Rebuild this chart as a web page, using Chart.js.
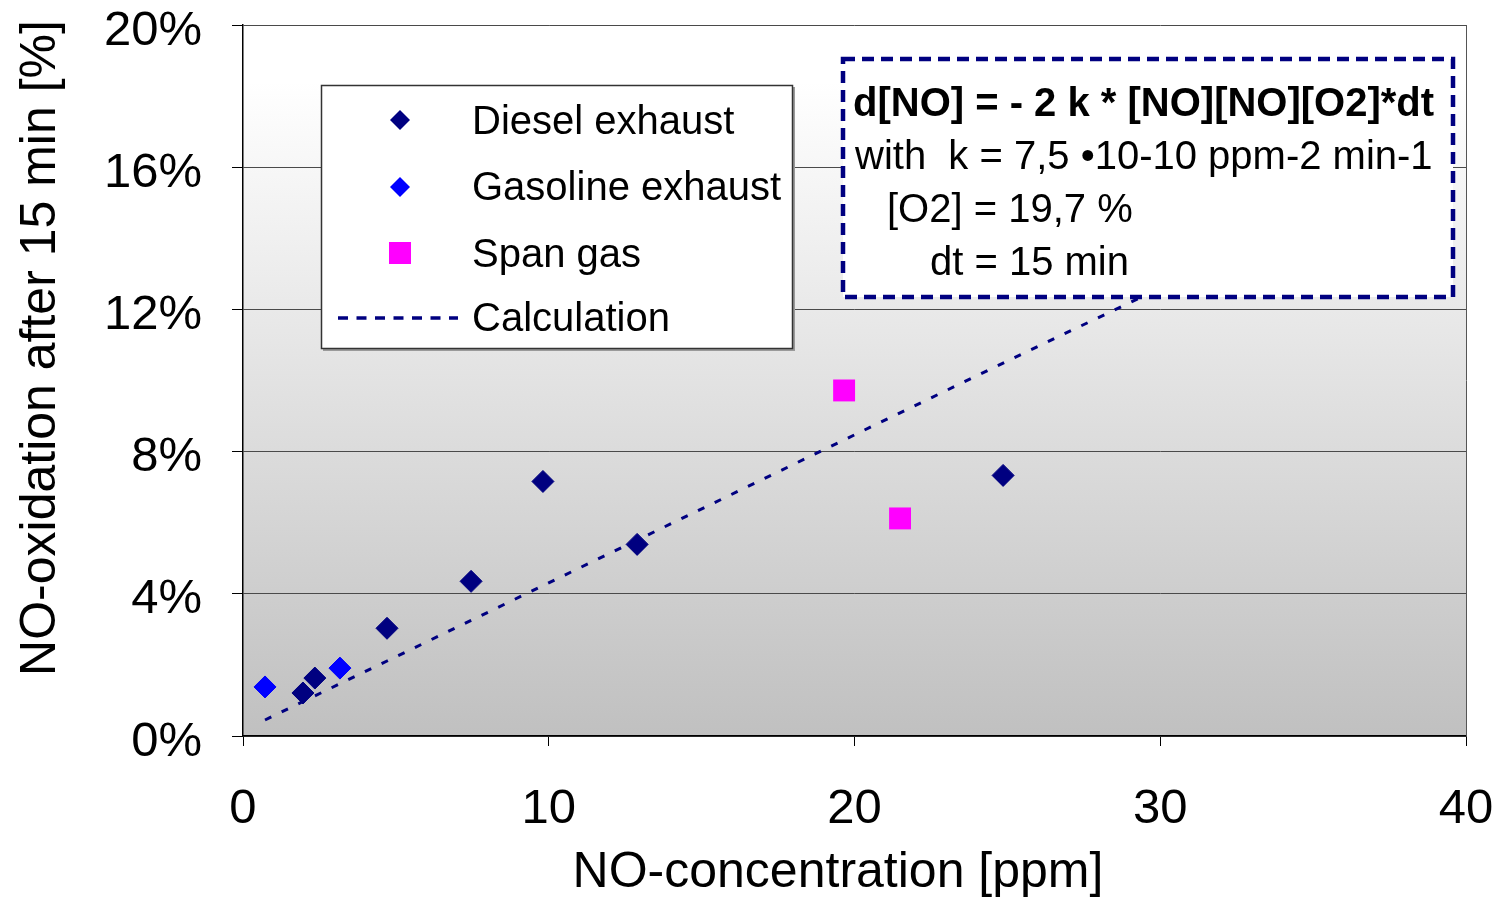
<!DOCTYPE html>
<html>
<head>
<meta charset="utf-8">
<script src="https://cdn.jsdelivr.net/npm/chart.js@4/dist/chart.umd.min.js"></script>
<style>
    html, body { margin: 0; padding: 0; background: #ffffff; }
    #wrap { width: 1499px; height: 898px; }
</style>
</head>
<body>
<div id="wrap"><canvas id="chart" width="1499" height="898"></canvas></div>
<script>
// NO concentration [ppm] and oxidation after 15 min [%]
const dieselX = [1.96, 2.35, 4.71, 7.46, 9.81, 12.89, 24.86];
const dieselY = [1.21, 1.63, 3.03, 4.35, 7.16, 5.39, 7.33];
const gasolineX = [0.72, 3.17];
const gasolineY = [1.38, 1.91];
const spanX = [19.66, 21.49];
const spanY = [9.72, 6.12];
const calcX = [0.72, 1.96, 2.35, 3.17, 4.71, 7.46, 9.81, 12.89, 19.66, 21.49, 24.86, 30];
const calcY = [0.45, 0.97, 1.13, 1.47, 2.11, 3.25, 4.23, 5.51, 8.33, 9.09, 10.49, 12.6];
const xTicks = [0, 10, 20, 30, 40];
const yTicks = [0, 4, 8, 12, 16, 20];

const legendItems = ['Diesel exhaust', 'Gasoline exhaust', 'Span gas', 'Calculation'];
const formulaLines = [
    'd[NO] = - 2 k * [NO][NO][O2]*dt',
    'with  k = 7,5 \u202210-10 ppm-2 min-1',
    '[O2] = 19,7 %',
    'dt = 15 min',
];
const xTitle = 'NO-concentration [ppm]';
const yTitle = 'NO-oxidation after 15 min [%]';

const NAVY = '#000080';
const BLUE = '#0000ff';
const MAGENTA = '#ff00ff';
const FONT = '"Liberation Sans", Arial, sans-serif';

function toPoints(xs, ys) {
    return xs.map((x, i) => ({x, y: ys[i]}));
}

function noScalePadding(scale) {
    scale.paddingTop = 0;
    scale.paddingBottom = 0;
    scale.paddingLeft = 0;
    scale.paddingRight = 0;
}

const backgroundPlugin = {
    id: 'plotBackground',
    beforeDraw(chart) {
        const {ctx, chartArea: a} = chart;
        const g = ctx.createLinearGradient(0, a.top, 0, a.bottom);
        g.addColorStop(0, '#ffffff');
        g.addColorStop(0.08, '#ffffff');
        g.addColorStop(1, '#c0c0c0');
        ctx.save();
        ctx.fillStyle = g;
        ctx.fillRect(a.left, a.top, a.right - a.left, a.bottom - a.top);
        ctx.restore();
    },
    afterDatasetsDraw(chart) {
        const {ctx, chartArea: a} = chart;
        ctx.save();
        ctx.strokeStyle = '#555555';
        ctx.lineWidth = 1;
        ctx.beginPath();
        ctx.moveTo(a.right + 0.5, a.top);
        ctx.lineTo(a.right + 0.5, a.bottom);
        ctx.stroke();
        ctx.restore();
    },
};

function drawDiamond(ctx, x, y, r, color) {
    ctx.fillStyle = color;
    ctx.beginPath();
    ctx.moveTo(x, y - r);
    ctx.lineTo(x + r, y);
    ctx.lineTo(x, y + r);
    ctx.lineTo(x - r, y);
    ctx.closePath();
    ctx.fill();
}

const overlayPlugin = {
    id: 'overlay',
    afterDraw(chart) {
        const ctx = chart.ctx;
        ctx.save();

        // legend box
        ctx.fillStyle = '#9a9a9a';
        ctx.fillRect(323, 87, 472, 264);
        ctx.fillStyle = '#ffffff';
        ctx.fillRect(321, 85, 472, 264);
        ctx.strokeStyle = '#333333';
        ctx.lineWidth = 1.5;
        ctx.strokeRect(321.5, 85.5, 471, 263);

        drawDiamond(ctx, 400, 120, 10, NAVY);
        drawDiamond(ctx, 400, 187, 10, BLUE);
        ctx.fillStyle = MAGENTA;
        ctx.fillRect(389, 242, 22, 22);
        ctx.strokeStyle = NAVY;
        ctx.lineWidth = 3.5;
        ctx.setLineDash([10, 8.5]);
        ctx.beginPath();
        ctx.moveTo(338, 318);
        ctx.lineTo(458, 318);
        ctx.stroke();
        ctx.setLineDash([]);

        ctx.fillStyle = '#000000';
        ctx.font = '40px ' + FONT;
        ctx.textBaseline = 'alphabetic';
        const rows = [134, 200, 267, 331];
        legendItems.forEach((label, i) => ctx.fillText(label, 472, rows[i]));

        // formula box
        ctx.fillStyle = '#ffffff';
        ctx.fillRect(843, 59, 610, 238);
        ctx.strokeStyle = NAVY;
        ctx.lineWidth = 4.5;
        ctx.setLineDash([12, 7]);
        ctx.strokeRect(843, 59, 610, 238);
        ctx.setLineDash([]);

        ctx.fillStyle = '#000000';
        ctx.font = 'bold 40px ' + FONT;
        ctx.fillText(formulaLines[0], 853, 116);
        ctx.font = '40px ' + FONT;
        ctx.fillText(formulaLines[1], 855, 169);
        ctx.fillText(formulaLines[2], 887, 222);
        ctx.fillText(formulaLines[3], 930, 275);

        // axis titles
        ctx.font = '50px ' + FONT;
        ctx.textAlign = 'center';
        ctx.fillText(xTitle, 838, 887);
        ctx.translate(55, 348);
        ctx.rotate(-Math.PI / 2);
        ctx.fillText(yTitle, 0, 0);

        ctx.restore();
    },
};

new Chart(document.getElementById('chart'), {
    type: 'scatter',
    data: {
        datasets: [
            {
                label: legendItems[0],
                data: toPoints(dieselX, dieselY),
                pointStyle: 'rectRot',
                pointRadius: 11,
                backgroundColor: NAVY,
                borderColor: NAVY,
                borderWidth: 1,
            },
            {
                label: legendItems[1],
                data: toPoints(gasolineX, gasolineY),
                pointStyle: 'rectRot',
                pointRadius: 11,
                backgroundColor: BLUE,
                borderColor: BLUE,
                borderWidth: 1,
            },
            {
                label: legendItems[2],
                data: toPoints(spanX, spanY),
                pointStyle: 'rect',
                pointRadius: 15.5,
                backgroundColor: MAGENTA,
                borderColor: MAGENTA,
                borderWidth: 0,
            },
            {
                label: legendItems[3],
                data: toPoints(calcX, calcY),
                showLine: true,
                pointRadius: 0,
                borderColor: NAVY,
                borderWidth: 3,
                borderDash: [7, 11.5],
                fill: false,
            },
        ],
    },
    options: {
        responsive: false,
        animation: false,
        events: [],
        layout: {
            autoPadding: false,
            padding: {left: 0, top: 25, right: 33, bottom: 0},
        },
        plugins: {
            legend: {display: false},
            tooltip: {enabled: false},
        },
        scales: {
            x: {
                type: 'linear',
                min: 0,
                max: 40,
                afterFit(scale) {
                    scale.height = 162;
                    noScalePadding(scale);
                },
                afterBuildTicks(scale) {
                    scale.ticks = xTicks.map((v) => ({value: v}));
                },
                ticks: {
                    color: '#000000',
                    font: {family: FONT, size: 49},
                    padding: 34,
                    maxRotation: 0,
                },
                grid: {
                    drawOnChartArea: false,
                    tickLength: 10,
                    tickColor: '#000000',
                },
                border: {color: '#000000', width: 1.5},
            },
            y: {
                type: 'linear',
                min: 0,
                max: 20,
                afterFit(scale) {
                    scale.width = 243;
                    noScalePadding(scale);
                },
                afterBuildTicks(scale) {
                    scale.ticks = yTicks.map((v) => ({value: v}));
                },
                ticks: {
                    color: '#000000',
                    font: {family: FONT, size: 49},
                    padding: 30,
                    labelOffset: 6,
                    callback(value) {
                        return value + '%';
                    },
                },
                grid: {
                    color: '#4a4a4a',
                    lineWidth: 1,
                    tickLength: 11,
                    tickColor: '#000000',
                },
                border: {color: '#000000', width: 1.5},
            },
        },
    },
    plugins: [backgroundPlugin, overlayPlugin],
});
</script>
</body>
</html>
